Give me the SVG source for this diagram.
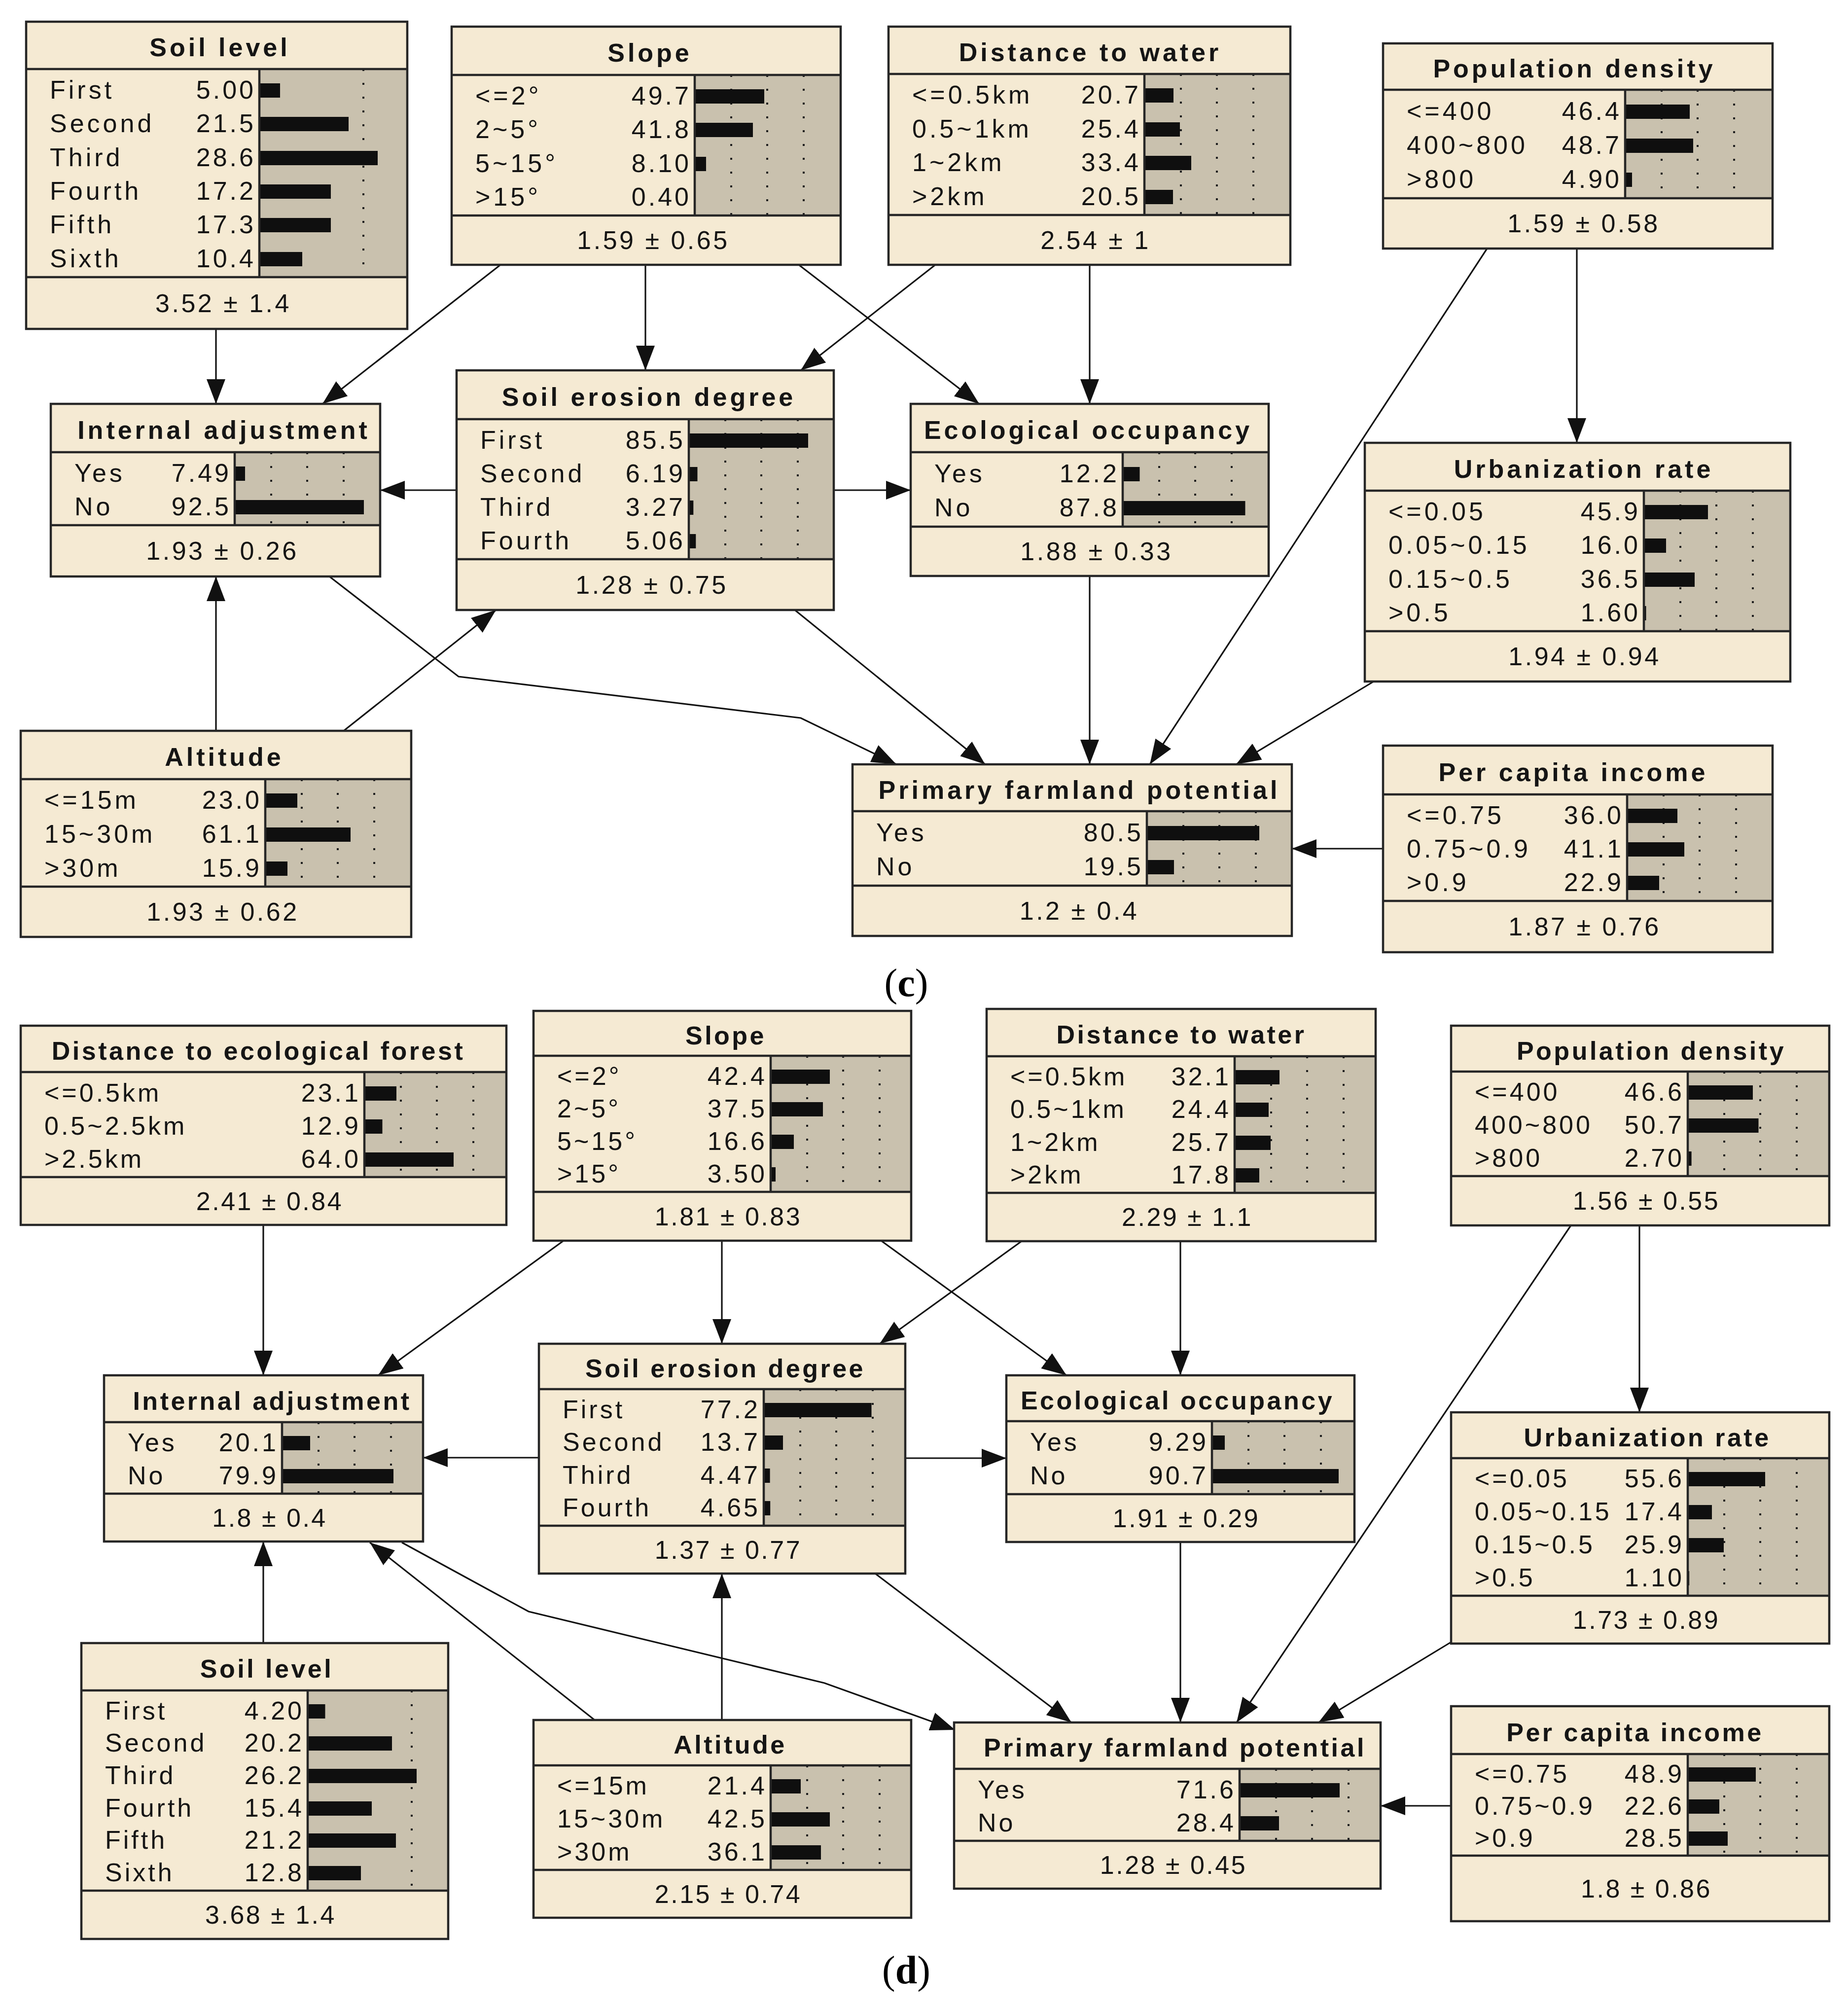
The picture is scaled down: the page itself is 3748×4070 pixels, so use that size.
<svg xmlns="http://www.w3.org/2000/svg" width="3748" height="4070" viewBox="0 0 3748 4070">
<style>
.f{fill:#F5EAD3}
.g{fill:#C9C1AE}
.k{stroke:#262626;stroke-width:4.5;fill:none}
.d{stroke:#1e1e1e;stroke-width:4;stroke-dasharray:4 24;fill:none}
.b{fill:#0f0f0f}
text{font-family:"Liberation Sans",Arial,sans-serif;font-size:52px;fill:#151515}
.t{font-weight:bold;text-anchor:middle;letter-spacing:4.5px}
.tc{font-weight:bold;text-anchor:middle;letter-spacing:6px}
.s{letter-spacing:5px}
.sc{letter-spacing:6px}
.v{letter-spacing:5px;text-anchor:end}
.m{letter-spacing:3.5px;text-anchor:middle}
.mc{letter-spacing:4.5px;text-anchor:middle}
.e{fill:none;stroke:#111;stroke-width:3.2}
.lab{font-family:"Liberation Serif","Times New Roman",serif;font-size:80px;text-anchor:middle;fill:#000}
</style>
<defs>
<marker id="ah" markerUnits="userSpaceOnUse" markerWidth="52" markerHeight="40" refX="50" refY="19" orient="auto"><path d="M0,0 L50,19 L0,38 z" fill="#111"/></marker>
</defs>
<rect width="3748" height="4070" fill="#fff"/>

<g id="connectors">
<path class="e" marker-end="url(#ah)" d="M438,667 L438,819"/>
<path class="e" marker-end="url(#ah)" d="M1015,537 L654,819"/>
<path class="e" marker-end="url(#ah)" d="M1309,537 L1309,751"/>
<path class="e" marker-end="url(#ah)" d="M1620,537 L1986,819"/>
<path class="e" marker-end="url(#ah)" d="M1897,537 L1624,751"/>
<path class="e" marker-end="url(#ah)" d="M2210,537 L2210,819"/>
<path class="e" marker-end="url(#ah)" d="M926,994 L771,994"/>
<path class="e" marker-end="url(#ah)" d="M1691,994 L1847,994"/>
<path class="e" marker-end="url(#ah)" d="M668,1169 L930,1372 L1624,1456 L1818,1550"/>
<path class="e" marker-end="url(#ah)" d="M438,1482 L438,1169"/>
<path class="e" marker-end="url(#ah)" d="M697,1482 L1006,1237"/>
<path class="e" marker-end="url(#ah)" d="M1612,1237 L1998,1550"/>
<path class="e" marker-end="url(#ah)" d="M2210,1168 L2210,1550"/>
<path class="e" marker-end="url(#ah)" d="M3016,504 L2332,1550"/>
<path class="e" marker-end="url(#ah)" d="M3198,504 L3198,898"/>
<path class="e" marker-end="url(#ah)" d="M2786,1382 L2507,1550"/>
<path class="e" marker-end="url(#ah)" d="M2805,1721 L2620,1721"/>

<path class="e" marker-end="url(#ah)" d="M534,2484 L534,2789"/>
<path class="e" marker-end="url(#ah)" d="M1143,2516 L767,2789"/>
<path class="e" marker-end="url(#ah)" d="M1464,2516 L1464,2725"/>
<path class="e" marker-end="url(#ah)" d="M1787,2516 L2163,2789"/>
<path class="e" marker-end="url(#ah)" d="M2072,2517 L1784,2725"/>
<path class="e" marker-end="url(#ah)" d="M2394,2517 L2394,2789"/>
<path class="e" marker-end="url(#ah)" d="M1093,2956 L858,2956"/>
<path class="e" marker-end="url(#ah)" d="M1836,2957 L2041,2957"/>
<path class="e" marker-end="url(#ah)" d="M815,3128 L1072,3268 L1672,3413 L1937,3508"/>
<path class="e" marker-end="url(#ah)" d="M1206,3488 L750,3128"/>
<path class="e" marker-end="url(#ah)" d="M1464,3488 L1464,3191"/>
<path class="e" marker-end="url(#ah)" d="M534,3332 L534,3126"/>
<path class="e" marker-end="url(#ah)" d="M1775,3191 L2173,3493"/>
<path class="e" marker-end="url(#ah)" d="M2394,3127 L2394,3493"/>
<path class="e" marker-end="url(#ah)" d="M3186,2485 L2508,3493"/>
<path class="e" marker-end="url(#ah)" d="M3325,2485 L3325,2864"/>
<path class="e" marker-end="url(#ah)" d="M2943,3330 L2674,3493"/>
<path class="e" marker-end="url(#ah)" d="M2943,3662 L2800,3662"/>
</g>

<!-- Panel (c) -->
<g id="c-soil-level">
<rect class="f" x="53" y="44" width="773" height="623"/>
<rect class="g" x="526" y="140" width="300" height="422"/>
<path class="d" d="M737,140V562"/>
<path class="b" d="M526,169h42v29h-42zM526,237h181v29h-181zM526,306h240v29h-240zM526,374h145v29h-145zM526,442h145v29h-145zM526,511h87v29h-87z"/>
<path class="k" d="M53,140H826M53,562H826M526,140V562"/>
<rect class="k" x="53" y="44" width="773" height="623"/>
<text class="tc" x="446" y="114">Soil level</text>
<text class="sc" x="101" y="200">First</text><text class="v" x="519" y="200">5.00</text>
<text class="sc" x="101" y="268">Second</text><text class="v" x="519" y="268">21.5</text>
<text class="sc" x="101" y="337">Third</text><text class="v" x="519" y="337">28.6</text>
<text class="sc" x="101" y="405">Fourth</text><text class="v" x="519" y="405">17.2</text>
<text class="sc" x="101" y="473">Fifth</text><text class="v" x="519" y="473">17.3</text>
<text class="sc" x="101" y="542">Sixth</text><text class="v" x="519" y="542">10.4</text>
<text class="mc" x="453" y="633">3.52 ± 1.4</text>
</g>

<g id="c-slope">
<rect class="f" x="916" y="54" width="789" height="483"/>
<rect class="g" x="1409" y="152" width="296" height="285"/>
<path class="d" d="M1483,152V437M1556,152V437M1630,152V437"/>
<path class="b" d="M1409,181h141v29h-141zM1409,249h118v29h-118zM1409,318h23v29h-23zM1409,386h2v29h-2z"/>
<path class="k" d="M916,152H1705M916,437H1705M1409,152V437"/>
<rect class="k" x="916" y="54" width="789" height="483"/>
<text class="tc" x="1318" y="125">Slope</text>
<text class="sc" x="964" y="212">&lt;=2°</text><text class="v" x="1402" y="212">49.7</text>
<text class="sc" x="964" y="280">2~5°</text><text class="v" x="1402" y="280">41.8</text>
<text class="sc" x="964" y="349">5~15°</text><text class="v" x="1402" y="349">8.10</text>
<text class="sc" x="964" y="417">&gt;15°</text><text class="v" x="1402" y="417">0.40</text>
<text class="mc" x="1325" y="505">1.59 ± 0.65</text>
</g>

<g id="c-distance-to-water">
<rect class="f" x="1802" y="54" width="815" height="483"/>
<rect class="g" x="2321" y="150" width="296" height="286"/>
<path class="d" d="M2395,150V436M2468,150V436M2542,150V436"/>
<path class="b" d="M2321,179h59v29h-59zM2321,248h72v29h-72zM2321,316h95v29h-95zM2321,385h58v29h-58z"/>
<path class="k" d="M1802,150H2617M1802,436H2617M2321,150V436"/>
<rect class="k" x="1802" y="54" width="815" height="483"/>
<text class="tc" x="2211" y="124">Distance to water</text>
<text class="sc" x="1850" y="210">&lt;=0.5km</text><text class="v" x="2314" y="210">20.7</text>
<text class="sc" x="1850" y="279">0.5~1km</text><text class="v" x="2314" y="279">25.4</text>
<text class="sc" x="1850" y="347">1~2km</text><text class="v" x="2314" y="347">33.4</text>
<text class="sc" x="1850" y="416">&gt;2km</text><text class="v" x="2314" y="416">20.5</text>
<text class="mc" x="2222" y="505">2.54 ± 1</text>
</g>

<g id="c-population-density">
<rect class="f" x="2805" y="88" width="790" height="416"/>
<rect class="g" x="3296" y="182" width="299" height="220"/>
<path class="d" d="M3370,182V402M3443,182V402M3517,182V402"/>
<path class="b" d="M3296,212h131v29h-131zM3296,281h138v29h-138zM3296,350h14v29h-14z"/>
<path class="k" d="M2805,182H3595M2805,402H3595M3296,182V402"/>
<rect class="k" x="2805" y="88" width="790" height="416"/>
<text class="tc" x="3193" y="157">Population density</text>
<text class="sc" x="2853" y="243">&lt;=400</text><text class="v" x="3289" y="243">46.4</text>
<text class="sc" x="2853" y="312">400~800</text><text class="v" x="3289" y="312">48.7</text>
<text class="sc" x="2853" y="381">&gt;800</text><text class="v" x="3289" y="381">4.90</text>
<text class="mc" x="3212" y="471">1.59 ± 0.58</text>
</g>

<g id="c-internal-adjustment">
<rect class="f" x="103" y="819" width="668" height="350"/>
<rect class="g" x="476" y="917" width="295" height="148"/>
<path class="d" d="M550,917V1065M623,917V1065M697,917V1065"/>
<path class="b" d="M476,946h21v29h-21zM476,1014h262v29h-262z"/>
<path class="k" d="M103,917H771M103,1065H771M476,917V1065"/>
<rect class="k" x="103" y="819" width="668" height="350"/>
<text class="tc" x="454" y="890">Internal adjustment</text>
<text class="sc" x="151" y="977">Yes</text><text class="v" x="469" y="977">7.49</text>
<text class="sc" x="151" y="1045">No</text><text class="v" x="469" y="1045">92.5</text>
<text class="mc" x="451" y="1135">1.93 ± 0.26</text>
</g>

<g id="c-soil-erosion-degree">
<rect class="f" x="926" y="751" width="765" height="486"/>
<rect class="g" x="1397" y="850" width="294" height="284"/>
<path class="d" d="M1471,850V1134M1544,850V1134M1618,850V1134"/>
<path class="b" d="M1397,879h242v29h-242zM1397,947h17.5v29h-17.5zM1397,1015h9.3v29h-9.3zM1397,1083h14.3v29h-14.3z"/>
<path class="k" d="M926,850H1691M926,1134H1691M1397,850V1134"/>
<rect class="k" x="926" y="751" width="765" height="486"/>
<text class="tc" x="1316" y="823">Soil erosion degree</text>
<text class="sc" x="974" y="910">First</text><text class="v" x="1390" y="910">85.5</text>
<text class="sc" x="974" y="978">Second</text><text class="v" x="1390" y="978">6.19</text>
<text class="sc" x="974" y="1046">Third</text><text class="v" x="1390" y="1046">3.27</text>
<text class="sc" x="974" y="1114">Fourth</text><text class="v" x="1390" y="1114">5.06</text>
<text class="mc" x="1322" y="1204">1.28 ± 0.75</text>
</g>

<g id="c-ecological-occupancy">
<rect class="f" x="1847" y="819" width="726" height="349"/>
<rect class="g" x="2277" y="917" width="296" height="151"/>
<path class="d" d="M2351,917V1068M2424,917V1068M2498,917V1068"/>
<path class="b" d="M2277,947h34.5v29h-34.5zM2277,1016h248.5v29h-248.5z"/>
<path class="k" d="M1847,917H2573M1847,1068H2573M2277,917V1068"/>
<rect class="k" x="1847" y="819" width="726" height="349"/>
<text class="tc" x="2207" y="890">Ecological occupancy</text>
<text class="sc" x="1895" y="978">Yes</text><text class="v" x="2270" y="978">12.2</text>
<text class="sc" x="1895" y="1047">No</text><text class="v" x="2270" y="1047">87.8</text>
<text class="mc" x="2224" y="1136">1.88 ± 0.33</text>
</g>

<g id="c-urbanization-rate">
<rect class="f" x="2768" y="898" width="863" height="484"/>
<rect class="g" x="3334" y="995" width="297" height="285"/>
<path class="d" d="M3408,995V1280M3481,995V1280M3555,995V1280"/>
<path class="b" d="M3334,1024h130v29h-130zM3334,1092h45v29h-45zM3334,1161h103v29h-103zM3334,1229h4.5v29h-4.5z"/>
<path class="k" d="M2768,995H3631M2768,1280H3631M3334,995V1280"/>
<rect class="k" x="2768" y="898" width="863" height="484"/>
<text class="tc" x="3212" y="969">Urbanization rate</text>
<text class="sc" x="2816" y="1055">&lt;=0.05</text><text class="v" x="3327" y="1055">45.9</text>
<text class="sc" x="2816" y="1123">0.05~0.15</text><text class="v" x="3327" y="1123">16.0</text>
<text class="sc" x="2816" y="1192">0.15~0.5</text><text class="v" x="3327" y="1192">36.5</text>
<text class="sc" x="2816" y="1260">&gt;0.5</text><text class="v" x="3327" y="1260">1.60</text>
<text class="mc" x="3214" y="1349">1.94 ± 0.94</text>
</g>

<g id="c-altitude">
<rect class="f" x="42" y="1482" width="792" height="418"/>
<rect class="g" x="538" y="1580" width="296" height="218"/>
<path class="d" d="M612,1580V1798M685,1580V1798M759,1580V1798"/>
<path class="b" d="M538,1609h65v29h-65zM538,1678h173v29h-173zM538,1747h45v29h-45z"/>
<path class="k" d="M42,1580H834M42,1798H834M538,1580V1798"/>
<rect class="k" x="42" y="1482" width="792" height="418"/>
<text class="tc" x="455" y="1553">Altitude</text>
<text class="sc" x="90" y="1640">&lt;=15m</text><text class="v" x="531" y="1640">23.0</text>
<text class="sc" x="90" y="1709">15~30m</text><text class="v" x="531" y="1709">61.1</text>
<text class="sc" x="90" y="1778">&gt;30m</text><text class="v" x="531" y="1778">15.9</text>
<text class="mc" x="452" y="1867">1.93 ± 0.62</text>
</g>

<g id="c-primary-farmland-potential">
<rect class="f" x="1729" y="1550" width="891" height="348"/>
<rect class="g" x="2326" y="1645" width="294" height="151"/>
<path class="d" d="M2400,1645V1796M2473,1645V1796M2547,1645V1796"/>
<path class="b" d="M2326,1675h228v29h-228zM2326,1744h55v29h-55z"/>
<path class="k" d="M1729,1645H2620M1729,1796H2620M2326,1645V1796"/>
<rect class="k" x="1729" y="1550" width="891" height="348"/>
<text class="tc" x="2189" y="1620">Primary farmland potential</text>
<text class="sc" x="1777" y="1706">Yes</text><text class="v" x="2319" y="1706">80.5</text>
<text class="sc" x="1777" y="1775">No</text><text class="v" x="2319" y="1775">19.5</text>
<text class="mc" x="2189" y="1865">1.2 ± 0.4</text>
</g>

<g id="c-per-capita-income">
<rect class="f" x="2805" y="1512" width="790" height="419"/>
<rect class="g" x="3300" y="1611" width="295" height="216"/>
<path class="d" d="M3374,1611V1827M3447,1611V1827M3521,1611V1827"/>
<path class="b" d="M3300,1640h102v29h-102zM3300,1708h116v29h-116zM3300,1776h65v29h-65z"/>
<path class="k" d="M2805,1611H3595M2805,1827H3595M3300,1611V1827"/>
<rect class="k" x="2805" y="1512" width="790" height="419"/>
<text class="tc" x="3191" y="1584">Per capita income</text>
<text class="sc" x="2853" y="1671">&lt;=0.75</text><text class="v" x="3293" y="1671">36.0</text>
<text class="sc" x="2853" y="1739">0.75~0.9</text><text class="v" x="3293" y="1739">41.1</text>
<text class="sc" x="2853" y="1807">&gt;0.9</text><text class="v" x="3293" y="1807">22.9</text>
<text class="mc" x="3214" y="1897">1.87 ± 0.76</text>
</g>

<text class="lab" x="1838" y="2020">(<tspan font-weight="bold">c</tspan>)</text>

<!-- Panel (d) -->
<g id="d-distance-to-ecological-forest">
<rect class="f" x="42" y="2080" width="985" height="404"/>
<rect class="g" x="739" y="2174" width="288" height="213"/>
<path class="d" d="M813,2174V2387M886,2174V2387M960,2174V2387"/>
<path class="b" d="M739,2203h65v29h-65zM739,2270h36.5v29h-36.5zM739,2337h181v29h-181z"/>
<path class="k" d="M42,2174H1027M42,2387H1027M739,2174V2387"/>
<rect class="k" x="42" y="2080" width="985" height="404"/>
<text class="t" x="524" y="2149">Distance to ecological forest</text>
<text class="s" x="90" y="2234">&lt;=0.5km</text><text class="v" x="732" y="2234">23.1</text>
<text class="s" x="90" y="2301">0.5~2.5km</text><text class="v" x="732" y="2301">12.9</text>
<text class="s" x="90" y="2368">&gt;2.5km</text><text class="v" x="732" y="2368">64.0</text>
<text class="m" x="547" y="2454">2.41 ± 0.84</text>
</g>

<g id="d-slope">
<rect class="f" x="1082" y="2050" width="766" height="466"/>
<rect class="g" x="1563" y="2141" width="285" height="276"/>
<path class="d" d="M1637,2141V2417M1710,2141V2417M1784,2141V2417"/>
<path class="b" d="M1563,2169h120v29h-120zM1563,2235h106v29h-106zM1563,2301h47v29h-47zM1563,2367h10v29h-10z"/>
<path class="k" d="M1082,2141H1848M1082,2417H1848M1563,2141V2417"/>
<rect class="k" x="1082" y="2050" width="766" height="466"/>
<text class="t" x="1472" y="2118">Slope</text>
<text class="s" x="1130" y="2200">&lt;=2°</text><text class="v" x="1556" y="2200">42.4</text>
<text class="s" x="1130" y="2266">2~5°</text><text class="v" x="1556" y="2266">37.5</text>
<text class="s" x="1130" y="2332">5~15°</text><text class="v" x="1556" y="2332">16.6</text>
<text class="s" x="1130" y="2398">&gt;15°</text><text class="v" x="1556" y="2398">3.50</text>
<text class="m" x="1477" y="2485">1.81 ± 0.83</text>
</g>

<g id="d-distance-to-water">
<rect class="f" x="2001" y="2046" width="789" height="471"/>
<rect class="g" x="2504" y="2142" width="286" height="277"/>
<path class="d" d="M2578,2142V2419M2651,2142V2419M2725,2142V2419"/>
<path class="b" d="M2504,2170h91v29h-91zM2504,2236h69v29h-69zM2504,2303h73v29h-73zM2504,2369h50v29h-50z"/>
<path class="k" d="M2001,2142H2790M2001,2419H2790M2504,2142V2419"/>
<rect class="k" x="2001" y="2046" width="789" height="471"/>
<text class="t" x="2396" y="2116">Distance to water</text>
<text class="s" x="2049" y="2201">&lt;=0.5km</text><text class="v" x="2497" y="2201">32.1</text>
<text class="s" x="2049" y="2267">0.5~1km</text><text class="v" x="2497" y="2267">24.4</text>
<text class="s" x="2049" y="2334">1~2km</text><text class="v" x="2497" y="2334">25.7</text>
<text class="s" x="2049" y="2400">&gt;2km</text><text class="v" x="2497" y="2400">17.8</text>
<text class="m" x="2408" y="2486">2.29 ± 1.1</text>
</g>

<g id="d-population-density">
<rect class="f" x="2943" y="2080" width="767" height="405"/>
<rect class="g" x="3423" y="2173" width="287" height="212"/>
<path class="d" d="M3497,2173V2385M3570,2173V2385M3644,2173V2385"/>
<path class="b" d="M3423,2201h132v29h-132zM3423,2268h143.5v29h-143.5zM3423,2335h7.6v29h-7.6z"/>
<path class="k" d="M2943,2173H3710M2943,2385H3710M3423,2173V2385"/>
<rect class="k" x="2943" y="2080" width="767" height="405"/>
<text class="t" x="3349" y="2149">Population density</text>
<text class="s" x="2991" y="2232">&lt;=400</text><text class="v" x="3416" y="2232">46.6</text>
<text class="s" x="2991" y="2299">400~800</text><text class="v" x="3416" y="2299">50.7</text>
<text class="s" x="2991" y="2366">&gt;800</text><text class="v" x="3416" y="2366">2.70</text>
<text class="m" x="3339" y="2453">1.56 ± 0.55</text>
</g>

<g id="d-internal-adjustment">
<rect class="f" x="211" y="2789" width="647" height="337"/>
<rect class="g" x="572" y="2884" width="286" height="145"/>
<path class="d" d="M646,2884V3029M719,2884V3029M793,2884V3029"/>
<path class="b" d="M572,2912h57v29h-57zM572,2979h226v29h-226z"/>
<path class="k" d="M211,2884H858M211,3029H858M572,2884V3029"/>
<rect class="k" x="211" y="2789" width="647" height="337"/>
<text class="t" x="552" y="2859">Internal adjustment</text>
<text class="s" x="259" y="2943">Yes</text><text class="v" x="565" y="2943">20.1</text>
<text class="s" x="259" y="3010">No</text><text class="v" x="565" y="3010">79.9</text>
<text class="m" x="547" y="3096">1.8 ± 0.4</text>
</g>

<g id="d-soil-erosion-degree">
<rect class="f" x="1093" y="2725" width="743" height="466"/>
<rect class="g" x="1549" y="2817" width="287" height="277"/>
<path class="d" d="M1623,2817V3094M1696,2817V3094M1770,2817V3094"/>
<path class="b" d="M1549,2845h218.5v29h-218.5zM1549,2911h39v29h-39zM1549,2978h12.6v29h-12.6zM1549,3044h13.2v29h-13.2z"/>
<path class="k" d="M1093,2817H1836M1093,3094H1836M1549,2817V3094"/>
<rect class="k" x="1093" y="2725" width="743" height="466"/>
<text class="t" x="1471" y="2793">Soil erosion degree</text>
<text class="s" x="1141" y="2876">First</text><text class="v" x="1542" y="2876">77.2</text>
<text class="s" x="1141" y="2942">Second</text><text class="v" x="1542" y="2942">13.7</text>
<text class="s" x="1141" y="3009">Third</text><text class="v" x="1542" y="3009">4.47</text>
<text class="s" x="1141" y="3075">Fourth</text><text class="v" x="1542" y="3075">4.65</text>
<text class="m" x="1477" y="3161">1.37 ± 0.77</text>
</g>

<g id="d-ecological-occupancy">
<rect class="f" x="2041" y="2789" width="706" height="338"/>
<rect class="g" x="2458" y="2882" width="289" height="148"/>
<path class="d" d="M2532,2882V3030M2605,2882V3030M2679,2882V3030"/>
<path class="b" d="M2458,2911h26v29h-26zM2458,2979h257v29h-257z"/>
<path class="k" d="M2041,2882H2747M2041,3030H2747M2458,2882V3030"/>
<rect class="k" x="2041" y="2789" width="706" height="338"/>
<text class="t" x="2388" y="2858">Ecological occupancy</text>
<text class="s" x="2089" y="2942">Yes</text><text class="v" x="2451" y="2942">9.29</text>
<text class="s" x="2089" y="3010">No</text><text class="v" x="2451" y="3010">90.7</text>
<text class="m" x="2406" y="3097">1.91 ± 0.29</text>
</g>

<g id="d-urbanization-rate">
<rect class="f" x="2943" y="2864" width="767" height="469"/>
<rect class="g" x="3423" y="2957" width="287" height="279"/>
<path class="d" d="M3497,2957V3236M3570,2957V3236M3644,2957V3236"/>
<path class="b" d="M3423,2985h157v29h-157zM3423,3052h49v29h-49zM3423,3119h73v29h-73zM3423,3186h3.1v29h-3.1z"/>
<path class="k" d="M2943,2957H3710M2943,3236H3710M3423,2957V3236"/>
<rect class="k" x="2943" y="2864" width="767" height="469"/>
<text class="t" x="3341" y="2933">Urbanization rate</text>
<text class="s" x="2991" y="3016">&lt;=0.05</text><text class="v" x="3416" y="3016">55.6</text>
<text class="s" x="2991" y="3083">0.05~0.15</text><text class="v" x="3416" y="3083">17.4</text>
<text class="s" x="2991" y="3150">0.15~0.5</text><text class="v" x="3416" y="3150">25.9</text>
<text class="s" x="2991" y="3217">&gt;0.5</text><text class="v" x="3416" y="3217">1.10</text>
<text class="m" x="3339" y="3303">1.73 ± 0.89</text>
</g>

<g id="d-soil-level">
<rect class="f" x="165" y="3332" width="744" height="600"/>
<rect class="g" x="624" y="3428" width="285" height="406"/>
<path class="d" d="M835,3428V3834"/>
<path class="b" d="M624,3456h35.5v29h-35.5zM624,3521h171v29h-171zM624,3587h221v29h-221zM624,3653h130v29h-130zM624,3718h179v29h-179zM624,3784h108v29h-108z"/>
<path class="k" d="M165,3428H909M165,3834H909M624,3428V3834"/>
<rect class="k" x="165" y="3332" width="744" height="600"/>
<text class="t" x="541" y="3402">Soil level</text>
<text class="s" x="213" y="3487">First</text><text class="v" x="617" y="3487">4.20</text>
<text class="s" x="213" y="3552">Second</text><text class="v" x="617" y="3552">20.2</text>
<text class="s" x="213" y="3618">Third</text><text class="v" x="617" y="3618">26.2</text>
<text class="s" x="213" y="3684">Fourth</text><text class="v" x="617" y="3684">15.4</text>
<text class="s" x="213" y="3749">Fifth</text><text class="v" x="617" y="3749">21.2</text>
<text class="s" x="213" y="3815">Sixth</text><text class="v" x="617" y="3815">12.8</text>
<text class="m" x="549" y="3901">3.68 ± 1.4</text>
</g>

<g id="d-altitude">
<rect class="f" x="1082" y="3488" width="766" height="401"/>
<rect class="g" x="1563" y="3580" width="285" height="212"/>
<path class="d" d="M1637,3580V3792M1710,3580V3792M1784,3580V3792"/>
<path class="b" d="M1563,3608h61v29h-61zM1563,3675h120v29h-120zM1563,3742h102v29h-102z"/>
<path class="k" d="M1082,3580H1848M1082,3792H1848M1563,3580V3792"/>
<rect class="k" x="1082" y="3488" width="766" height="401"/>
<text class="t" x="1481" y="3556">Altitude</text>
<text class="s" x="1130" y="3639">&lt;=15m</text><text class="v" x="1556" y="3639">21.4</text>
<text class="s" x="1130" y="3706">15~30m</text><text class="v" x="1556" y="3706">42.5</text>
<text class="s" x="1130" y="3773">&gt;30m</text><text class="v" x="1556" y="3773">36.1</text>
<text class="m" x="1477" y="3859">2.15 ± 0.74</text>
</g>

<g id="d-primary-farmland-potential">
<rect class="f" x="1935" y="3493" width="865" height="337"/>
<rect class="g" x="2514" y="3587" width="286" height="146"/>
<path class="d" d="M2588,3587V3733M2661,3587V3733M2735,3587V3733"/>
<path class="b" d="M2514,3616h203v29h-203zM2514,3683h80v29h-80z"/>
<path class="k" d="M1935,3587H2800M1935,3733H2800M2514,3587V3733"/>
<rect class="k" x="1935" y="3493" width="865" height="337"/>
<text class="t" x="2383" y="3562">Primary farmland potential</text>
<text class="s" x="1983" y="3647">Yes</text><text class="v" x="2507" y="3647">71.6</text>
<text class="s" x="1983" y="3714">No</text><text class="v" x="2507" y="3714">28.4</text>
<text class="m" x="2380" y="3800">1.28 ± 0.45</text>
</g>

<g id="d-per-capita-income">
<rect class="f" x="2943" y="3460" width="767" height="436"/>
<rect class="g" x="3423" y="3557" width="287" height="206"/>
<path class="d" d="M3497,3557V3763M3570,3557V3763M3644,3557V3763"/>
<path class="b" d="M3423,3584h138v29h-138zM3423,3649h64v29h-64zM3423,3714h81v29h-81z"/>
<path class="k" d="M2943,3557H3710M2943,3763H3710M3423,3557V3763"/>
<rect class="k" x="2943" y="3460" width="767" height="436"/>
<text class="t" x="3316" y="3531">Per capita income</text>
<text class="s" x="2991" y="3615">&lt;=0.75</text><text class="v" x="3416" y="3615">48.9</text>
<text class="s" x="2991" y="3680">0.75~0.9</text><text class="v" x="3416" y="3680">22.6</text>
<text class="s" x="2991" y="3745">&gt;0.9</text><text class="v" x="3416" y="3745">28.5</text>
<text class="m" x="3339" y="3848">1.8 ± 0.86</text>
</g>

<text class="lab" x="1838" y="4022">(<tspan font-weight="bold">d</tspan>)</text>
</svg>
